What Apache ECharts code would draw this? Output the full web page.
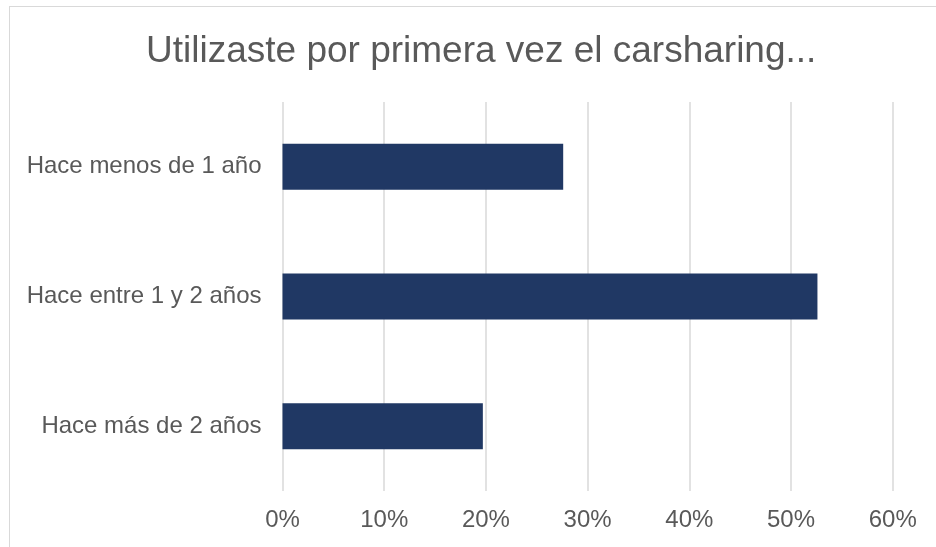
<!DOCTYPE html>
<html>
<head>
<meta charset="utf-8">
<script src="https://cdn.jsdelivr.net/npm/echarts@6/dist/echarts.min.js"></script>
<style>
  html, body { margin: 0; padding: 0; background: #fff; }
  #frame { position: absolute; left: 9px; top: 6px; width: 1000px; height: 600px; border: 1px solid #d9d9d9; box-sizing: border-box; }
  #main { position: absolute; left: 0; top: 0; width: 936px; height: 547px; }
</style>
</head>
<body>
<div id="frame"></div>
<div id="main"></div>
<script>
// datos del gráfico
var titulo = 'Utilizaste por primera vez el carsharing...';
var categorias = ['Hace menos de 1 año', 'Hace entre 1 y 2 años', 'Hace más de 2 años'];
var valores = [27.6, 52.6, 19.7];
var ejeMax = 60;
var ejePaso = 10;

var myChart = echarts.init(document.getElementById('main'));
var option = {
    animation: false,
    title: {
        text: titulo,
        left: 141,
        top: 28,
        textStyle: {
            fontFamily: 'Liberation Sans',
            fontSize: 37,
            fontWeight: 'normal',
            color: '#595959'
        }
    },
    grid: {
        left: 282.5,
        right: 43.3,
        top: 102,
        bottom: 56
    },
    xAxis: {
        type: 'value',
        min: 0,
        max: ejeMax,
        interval: ejePaso,
        axisLine: { show: false },
        axisTick: { show: false },
        splitLine: { lineStyle: { color: '#d9d9d9', width: 1.5 } },
        axisLabel: {
            margin: 17,
            formatter: '{value}%',
            fontFamily: 'Liberation Sans',
            fontSize: 24,
            color: '#595959'
        }
    },
    yAxis: {
        type: 'category',
        inverse: true,
        data: categorias,
        axisLine: { show: false },
        axisTick: { show: false },
        axisLabel: {
            margin: 21,
            fontFamily: 'Liberation Sans',
            fontSize: 24,
            color: '#595959'
        }
    },
    series: [{
        type: 'bar',
        data: valores,
        barWidth: '35.5%',
        itemStyle: { color: '#203864' }
    }]
};
myChart.setOption(option);
</script>
</body>
</html>
